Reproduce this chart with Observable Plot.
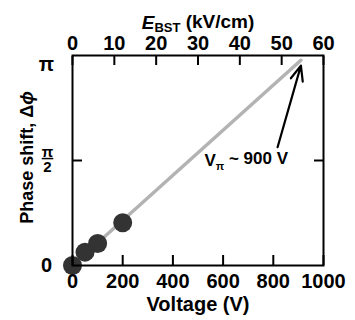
<!DOCTYPE html>
<html>
<head>
<meta charset="utf-8">
<script src="https://cdn.jsdelivr.net/npm/d3@7"></script>
<script src="https://cdn.jsdelivr.net/npm/@observablehq/plot@0.6"></script>
<style>
  html, body { margin: 0; padding: 0; background: #fff; }
  #chart svg { display: block; }
</style>
</head>
<body>
<div id="chart"></div>
<script>
// Measured points
const voltages = [0, 50, 100, 200];
const phases = [0, 0.2, 0.33, 0.64];

// Linear fit line (endpoints)
const fitVoltages = [0, 910];
const fitPhases = [0, 3.07];

// Tick values
const vTicks = [0, 200, 400, 600, 800, 1000];
const eTicks = [0, 10, 20, 30, 40, 50, 60];
const eMax = 60, vMax = 1000;
const phaseTicks = [0, Math.PI / 2, Math.PI];
const phaseLabels = ["0", "π\n2", "π"];

// Annotation
const arrowTail = { v: 817, p: 1.77 };
const arrowTip = { v: 910, p: 2.99 };
const noteText = "Vπ ~ 900 V";
const notePos = { v: 692, p: Math.PI / 2 };

const points = voltages.map((v, i) => ({ v, p: phases[i] }));
const fit = fitVoltages.map((v, i) => ({ v, p: fitPhases[i] }));
const eAsV = eTicks.map(e => e * vMax / eMax);

const font = "'Liberation Sans', Arial, sans-serif";
const fs = 20;

const plot = Plot.plot({
  width: 355,
  height: 320,
  marginLeft: 72,
  marginRight: 32,
  marginTop: 55,
  marginBottom: 55,
  style: { fontFamily: font, fontSize: fs + "px", fontWeight: "bold", color: "#000", background: "#fff" },
  x: { domain: [0, vMax] },
  y: { domain: [0, Math.PI] },
  marks: [
    Plot.line(fit, { x: "v", y: "p", stroke: "#b3b3b3", strokeWidth: 3.5 }),
    Plot.dot(points, { x: "v", y: "p", r: 9.5, fill: "#333", stroke: "none" }),
    // bottom axis
    Plot.axisX(vTicks, { anchor: "bottom", tickSize: 0, tickPadding: 8, label: null, fontSize: fs, fontWeight: "bold",
      tickFormat: d => String(d) }),
    Plot.axisX(vTicks, { anchor: "bottom", tickSize: -10, tickFormat: () => "", label: null, strokeWidth: 2 }),
    // top axis (E field)
    Plot.axisX(eAsV, { anchor: "top", tickSize: 0, tickPadding: 6, label: null, fontSize: fs, fontWeight: "bold",
      tickFormat: v => String(Math.round(v * eMax / vMax)) }),
    Plot.axisX(eAsV, { anchor: "top", tickSize: -9, tickFormat: () => "", label: null, strokeWidth: 2 }),
    // left / right ticks
    Plot.axisY([Math.PI / 2], { anchor: "left", tickSize: -10, tickFormat: () => "", label: null, strokeWidth: 2 }),
    Plot.axisY([Math.PI / 2], { anchor: "right", tickSize: -10, tickFormat: () => "", label: null, strokeWidth: 2 }),
    Plot.frame({ strokeWidth: 2, stroke: "#000" }),
    // y tick labels
    Plot.text([0], { y: i => phaseTicks[i], frameAnchor: "left", dx: -26, text: i => phaseLabels[i], fontSize: fs, textAnchor: "middle" }),
    Plot.text([2], { y: i => phaseTicks[i], frameAnchor: "left", dx: -26, dy: 9, text: i => phaseLabels[i], fontSize: fs, textAnchor: "middle" }),
    Plot.text([1], { y: i => phaseTicks[i], frameAnchor: "left", dx: -25, dy: -1, text: i => phaseLabels[i], fontSize: 15,
      lineHeight: 1.0, textAnchor: "middle", className: "frac" }),
    // axis titles
    Plot.text(["Voltage (V)"], { frameAnchor: "bottom", dy: 45, text: d => d, fontSize: fs }),
    Plot.text(["EBST (kV/cm)"], { frameAnchor: "top", dy: -40, text: d => d, fontSize: 19 }),
    Plot.text(["Phase shift, Δϕ"], { frameAnchor: "left", dx: -45, dy: -3, rotate: -90, textAnchor: "middle", text: d => d, fontSize: 18 }),
    // annotation
    Plot.arrow([0], { x1: () => arrowTail.v, y1: () => arrowTail.p, x2: () => arrowTip.v, y2: () => arrowTip.p,
      stroke: "#000", strokeWidth: 2.2, headLength: 11, headAngle: 45 }),
    Plot.text([noteText], { x: () => notePos.v, y: () => notePos.p, text: d => d, fontSize: 17 })
  ]
});

document.getElementById("chart").appendChild(plot);

// rich text: subscripts / italics / fraction bar
const svg = d3.select(plot);
svg.selectAll(".frac text tspan").filter((d, i, n) => n[i].textContent === "π")
  .style("text-decoration", "underline");
svg.selectAll("text").each(function () {
  const el = d3.select(this);
  const t = this.textContent;
  if (t === "EBST (kV/cm)") {
    el.text(null);
    el.append("tspan").attr("font-style", "italic").text("E");
    el.append("tspan").attr("font-size", 13).attr("dy", "0.25em").text("BST");
    el.append("tspan").attr("dy", "-0.25em").text(" (kV/cm)");
  } else if (t === "Phase shift, Δϕ") {
    el.text(null);
    el.append("tspan").text("Phase shift, Δ");
    el.append("tspan").attr("font-style", "italic").text("ϕ");
  } else if (t === noteText) {
    el.text(null);
    el.append("tspan").text("V");
    el.append("tspan").attr("font-size", 11).attr("dy", "0.35em").text("π");
    el.append("tspan").attr("dy", "-0.35em").text(" ~ 900 V");
  }
});
</script>
</body>
</html>
